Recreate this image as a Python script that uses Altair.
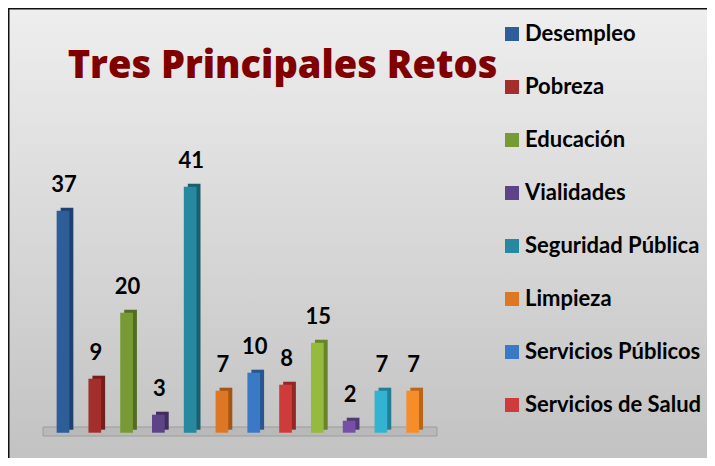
import altair as alt
import pandas as pd

# ---- data ----
categories = ["Desempleo", "Pobreza", "Educación", "Vialidades", "Seguridad Pública",
              "Limpieza", "Servicios Públicos", "Servicios de Salud",
              "Serie 9", "Serie 10", "Serie 11", "Serie 12"]
values = [37, 9, 20, 3, 41, 7, 10, 8, 15, 2, 7, 7]
front_colors = ["#2D5E9A", "#A32E2C", "#779A35", "#5E4387", "#27899F", "#DE7723",
                "#3A79C6", "#CF3B3A", "#94BA3E", "#7550A6", "#34B2D2", "#F68D2A"]
side_colors = ["#1F4170", "#741F1E", "#536C24", "#402D5E", "#1A5F70", "#A35515",
               "#28568E", "#942726", "#688429", "#523875", "#237E95", "#B7661A"]
legend_items = categories[:8]
title_text = "Tres Principales Retos"

W, H = 699, 450
FONT = "Lato"

df = pd.DataFrame({"cat": categories, "value": values, "front": front_colors, "side": side_colors})

xenc = alt.X("cat:N", sort=categories,
             scale=alt.Scale(domain=categories, range=[39.1, 420.6], paddingInner=0, paddingOuter=0),
             axis=None)
yenc = alt.Y("value:Q", scale=alt.Scale(domain=[0, 41], range=[424.7, 178.7], nice=False, zero=True),
             axis=None)

bg = alt.Chart(pd.DataFrame({"k": [0]})).mark_rect(
    color=alt.LinearGradient(gradient="linear", x1=0, y1=0, x2=0, y2=1,
                             stops=[alt.GradientStop(offset=0, color="#eeeeee"),
                                    alt.GradientStop(offset=1, color="#c2c2c2")])
).encode(x=alt.value(0), x2=alt.value(W), y=alt.value(0), y2=alt.value(H))

border_top = alt.Chart(pd.DataFrame({"k": [0]})).mark_rule(color="#111111", strokeWidth=2).encode(
    x=alt.value(0), x2=alt.value(W), y=alt.value(0.5))
border_left = alt.Chart(pd.DataFrame({"k": [0]})).mark_rule(color="#111111", strokeWidth=2).encode(
    x=alt.value(0.5), y=alt.value(0), y2=alt.value(H))

floor = alt.Chart(pd.DataFrame({"k": [0]})).mark_rect(color="#b9b9b9", stroke="#9c9c9c", strokeWidth=1).encode(
    x=alt.value(35), x2=alt.value(429), y=alt.value(419), y2=alt.value(428))

base = alt.Chart(df)
back = base.mark_bar(width=12.7, xOffset=4, yOffset=-3).encode(
    x=xenc, y=yenc, color=alt.Color("side:N", scale=None))
front = base.mark_bar(width=12.7).encode(
    x=xenc, y=yenc,
    color=alt.Color("cat:N", sort=categories,
                    scale=alt.Scale(domain=categories, range=front_colors),
                    legend=alt.Legend(orient="none", legendX=493, legendY=15, values=legend_items,
                                      title=None, symbolType="square", symbolSize=196, padding=0,
                                      symbolStrokeWidth=0, labelFontSize=22, labelFont=FONT,
                                      labelFontWeight="bold", labelColor="black", rowPadding=31,
                                      labelOffset=2, labelLimit=300)))
labels = base.mark_text(baseline="alphabetic", align="center", dy=-19, dx=1, fontSize=22,
                        fontWeight="bold", font=FONT, color="black").encode(
    x=xenc, y=yenc, text=alt.Text("value:Q"))

tdf = pd.DataFrame({"t": [title_text]})
title = alt.Chart(tdf).mark_text(font="Open Sans", fontSize=38, fontWeight=800,
                                 color="#800000", align="center", baseline="alphabetic").encode(
    x=alt.value(274.5), y=alt.value(70), text="t:N")

chart = alt.layer(bg, border_top, border_left, floor, back, front, labels, title).resolve_scale(
    color="independent"
).properties(width=W, height=H, autosize=alt.AutoSizeParams(type="none"), padding=0
).configure_view(stroke=None)

chart.save("out.html", embed_options={"renderer": "svg", "actions": False})
